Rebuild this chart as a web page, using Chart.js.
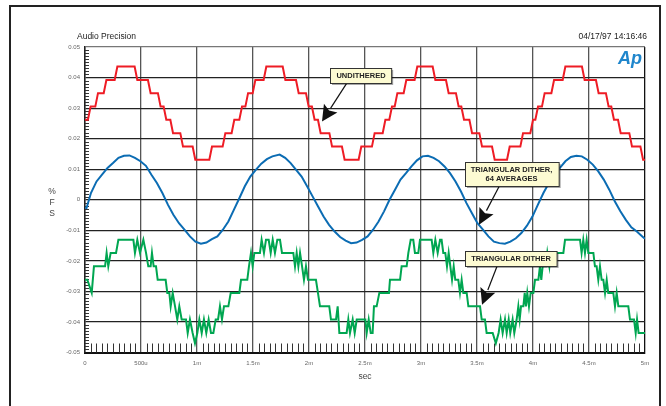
<!DOCTYPE html>
<html><head><meta charset="utf-8">
<script src="https://cdn.jsdelivr.net/npm/chart.js@4.4.1/dist/chart.umd.min.js"></script>
<style>html,body{margin:0;padding:0;background:#fff;}#wrap{width:666px;height:406px;position:relative;}</style>
</head><body><div id="wrap"><canvas id="c" width="666" height="406"></canvas></div>
<script>
// ---- tick labels ----
const xTickLabels = ['0','500u','1m','1.5m','2m','2.5m','3m','3.5m','4m','4.5m','5m'];
const yTickLabels = ['-0.05','-0.04','-0.03','-0.02','-0.01','0','0.01','0.02','0.03','0.04','0.05'];

// ---- UNDITHERED (red): time of each level change (ms) and level after it (%FS) ----
const redT = [0,0.038,0.104,0.179,0.277,0.455,0.574,0.663,0.714,0.774,0.863,0.973,1.122,1.241,1.321,1.390,1.444,1.509,1.607,1.777,1.896,1.985,2.038,2.092,2.194,2.306,2.455,2.574,2.670,2.729,2.777,2.857,2.955,3.116,3.235,3.324,3.372,3.444,3.533,3.646,3.780,3.899,3.988,4.033,4.092,4.176,4.277,4.449,4.574,4.663,4.711,4.771,4.872,4.971];
const redV = [0.0262,0.0305,0.0349,0.0392,0.0436,0.0392,0.0349,0.0305,0.0262,0.0218,0.0174,0.0131,0.0174,0.0218,0.0262,0.0305,0.0349,0.0392,0.0436,0.0392,0.0349,0.0305,0.0262,0.0218,0.0174,0.0131,0.0174,0.0218,0.0262,0.0305,0.0349,0.0392,0.0436,0.0392,0.0349,0.0305,0.0262,0.0218,0.0174,0.0131,0.0174,0.0218,0.0262,0.0305,0.0349,0.0392,0.0436,0.0392,0.0349,0.0305,0.0262,0.0218,0.0174,0.0131];

// ---- TRIANGULAR DITHER, 64 AVERAGES (blue) ----
const blueT = [0,0.014,0.053,0.103,0.152,0.201,0.250,0.299,0.348,0.397,0.446,0.495,0.544,0.593,0.642,0.691,0.740,0.789,0.839,0.888,0.937,0.986,1.035,1.084,1.133,1.182,1.231,1.280,1.329,1.378,1.427,1.476,1.525,1.574,1.624,1.673,1.738,1.787,1.836,1.885,1.934,1.983,2.032,2.081,2.130,2.179,2.229,2.278,2.327,2.376,2.425,2.474,2.523,2.572,2.621,2.670,2.719,2.768,2.817,2.866,2.915,2.964,3.013,3.062,3.112,3.161,3.210,3.259,3.308,3.357,3.406,3.455,3.504,3.553,3.602,3.651,3.700,3.749,3.798,3.847,3.896,3.946,3.995,4.044,4.093,4.142,4.191,4.240,4.289,4.338,4.387,4.436,4.485,4.534,4.583,4.632,4.681,4.730,4.780,4.829,4.878,4.927,4.976,5.0];
const blueV = [-0.0025,-0.0027,0.0022,0.0060,0.0082,0.0104,0.0120,0.0137,0.0144,0.0145,0.0137,0.0126,0.0111,0.0082,0.0055,0.0022,-0.0016,-0.0049,-0.0077,-0.0098,-0.0120,-0.0137,-0.0144,-0.0140,-0.0129,-0.0120,-0.0098,-0.0071,-0.0033,0.0005,0.0044,0.0076,0.0098,0.0118,0.0133,0.0142,0.0148,0.0137,0.0120,0.0098,0.0076,0.0044,0.0011,-0.0022,-0.0055,-0.0082,-0.0104,-0.0122,-0.0134,-0.0142,-0.0140,-0.0131,-0.0120,-0.0098,-0.0071,-0.0038,0.0000,0.0033,0.0066,0.0087,0.0109,0.0129,0.0142,0.0144,0.0137,0.0126,0.0109,0.0087,0.0060,0.0027,-0.0011,-0.0044,-0.0077,-0.0098,-0.0120,-0.0137,-0.0142,-0.0144,-0.0137,-0.0126,-0.0109,-0.0085,-0.0055,-0.0016,0.0022,0.0055,0.0082,0.0104,0.0126,0.0140,0.0144,0.0142,0.0131,0.0115,0.0093,0.0066,0.0033,-0.0005,-0.0038,-0.0066,-0.0090,-0.0104,-0.0120,-0.0128];

// ---- TRIANGULAR DITHER (green) ----
const greenT = [0,0.021,0.060,0.080,0.179,0.193,0.208,0.229,0.277,0.298,0.432,0.446,0.467,0.491,0.521,0.545,0.565,0.586,0.598,0.613,0.634,0.649,0.720,0.735,0.753,0.765,0.783,0.804,0.824,0.842,0.863,0.902,0.917,0.937,0.961,0.982,1.003,1.021,1.042,1.062,1.083,1.104,1.125,1.146,1.167,1.188,1.205,1.223,1.241,1.280,1.301,1.378,1.393,1.449,1.464,1.482,1.497,1.512,1.562,1.577,1.598,1.616,1.640,1.658,1.676,1.696,1.717,1.741,1.759,1.860,1.875,1.890,1.905,1.920,1.938,1.955,1.973,1.991,2.062,2.080,2.098,2.181,2.196,2.241,2.256,2.271,2.336,2.351,2.366,2.390,2.408,2.426,2.503,2.515,2.533,2.551,2.568,2.580,2.604,2.628,2.714,2.723,2.813,2.827,2.872,2.887,2.908,2.931,2.946,2.976,2.991,3.095,3.110,3.128,3.149,3.170,3.184,3.199,3.217,3.232,3.247,3.262,3.277,3.292,3.306,3.333,3.348,3.363,3.378,3.408,3.423,3.527,3.542,3.571,3.586,3.640,3.668,3.693,3.711,3.729,3.750,3.765,3.783,3.797,3.818,3.833,3.854,3.869,3.881,3.893,3.914,3.926,3.937,3.949,3.964,3.979,4.003,4.018,4.048,4.062,4.074,4.086,4.116,4.128,4.146,4.158,4.271,4.286,4.420,4.434,4.449,4.464,4.479,4.494,4.539,4.553,4.568,4.583,4.598,4.613,4.628,4.643,4.658,4.672,4.717,4.732,4.747,4.762,4.851,4.866,4.902,4.917,4.929,4.943,5.0];
const greenV = [-0.0262,-0.0262,-0.0305,-0.0218,-0.0218,-0.0174,-0.0218,-0.0174,-0.0174,-0.0131,-0.0131,-0.0174,-0.0131,-0.0174,-0.0131,-0.0174,-0.0218,-0.0218,-0.0174,-0.0218,-0.0218,-0.0262,-0.0262,-0.0305,-0.0305,-0.0349,-0.0305,-0.0349,-0.0392,-0.0349,-0.0392,-0.0392,-0.0436,-0.0392,-0.0436,-0.0470,-0.0436,-0.0392,-0.0436,-0.0392,-0.0436,-0.0392,-0.0436,-0.0436,-0.0392,-0.0392,-0.0349,-0.0392,-0.0349,-0.0349,-0.0305,-0.0305,-0.0262,-0.0262,-0.0218,-0.0174,-0.0218,-0.0174,-0.0174,-0.0131,-0.0174,-0.0131,-0.0131,-0.0174,-0.0131,-0.0174,-0.0131,-0.0131,-0.0174,-0.0174,-0.0218,-0.0174,-0.0218,-0.0174,-0.0218,-0.0262,-0.0218,-0.0262,-0.0262,-0.0305,-0.0349,-0.0349,-0.0392,-0.0392,-0.0349,-0.0436,-0.0436,-0.0392,-0.0436,-0.0392,-0.0436,-0.0392,-0.0392,-0.0436,-0.0392,-0.0436,-0.0436,-0.0349,-0.0349,-0.0305,-0.0305,-0.0262,-0.0262,-0.0218,-0.0218,-0.0174,-0.0131,-0.0131,-0.0174,-0.0174,-0.0131,-0.0131,-0.0174,-0.0131,-0.0174,-0.0131,-0.0131,-0.0174,-0.0174,-0.0218,-0.0174,-0.0218,-0.0262,-0.0218,-0.0262,-0.0262,-0.0305,-0.0262,-0.0305,-0.0305,-0.0349,-0.0349,-0.0392,-0.0392,-0.0436,-0.0436,-0.0470,-0.0436,-0.0392,-0.0436,-0.0392,-0.0436,-0.0392,-0.0436,-0.0392,-0.0436,-0.0392,-0.0349,-0.0392,-0.0349,-0.0349,-0.0305,-0.0349,-0.0305,-0.0349,-0.0305,-0.0305,-0.0262,-0.0262,-0.0218,-0.0262,-0.0218,-0.0218,-0.0174,-0.0218,-0.0174,-0.0174,-0.0131,-0.0131,-0.0174,-0.0131,-0.0174,-0.0131,-0.0174,-0.0174,-0.0218,-0.0218,-0.0262,-0.0218,-0.0262,-0.0262,-0.0305,-0.0262,-0.0305,-0.0305,-0.0349,-0.0305,-0.0349,-0.0349,-0.0392,-0.0392,-0.0436,-0.0392,-0.0436,-0.0436];

// ---- callouts: label lines, arrow tip (ms, %FS), box centre (ms, %FS) ----
const callouts = [
  {lines:['UNDITHERED'], tip:[2.116,0.0256], box:[2.464,0.0407]},
  {lines:['TRIANGULAR DITHER,','64 AVERAGES'], tip:[3.518,-0.0082], box:[3.808,0.0085]},
  {lines:['TRIANGULAR DITHER'], tip:[3.545,-0.0344], box:[3.804,-0.0193]}
];

// build datasets from the arrays
const redPts = [{x:redT[0], y:redV[0]}];
for (let i = 1; i < redT.length; i++) {
  redPts.push({x:redT[i]-0.012, y:redV[i-1]});
  redPts.push({x:redT[i]+0.012, y:redV[i]});
}
redPts.push({x:5, y:redV[redV.length-1]});
const bluePts = blueT.map((t,i)=>({x:t, y:blueV[i]}));
const greenPts = greenT.map((t,i)=>({x:t, y:greenV[i]}));

const FONT = "'Liberation Sans', Arial, Helvetica, sans-serif";

const deco = {
  id:'deco',
  beforeDraw(chart){
    const c = chart.ctx;
    c.save(); c.fillStyle='#fff'; c.fillRect(0,0,chart.width,chart.height); c.restore();
  },
  beforeDatasetsDraw(chart){
    const c = chart.ctx, xs = chart.scales.x, ys = chart.scales.y, a = chart.chartArea;
    c.save();
    c.strokeStyle = '#333'; c.lineWidth = 1;
    for (let k = 0; k <= 100; k++) {
      if (k % 10 === 0) continue;
      const px = Math.round(xs.getPixelForValue(k*0.05)) + 0.5;
      c.beginPath(); c.moveTo(px, a.bottom); c.lineTo(px, a.bottom - 9); c.stroke();
    }
    for (let k = 0; k <= 100; k++) {
      if (k % 10 === 0) continue;
      const py = Math.round(ys.getPixelForValue(-0.05 + k*0.001)) + 0.5;
      c.beginPath(); c.moveTo(a.left, py); c.lineTo(a.left + 4, py); c.stroke();
    }
    c.restore();
  },
  afterDraw(chart){
    const c = chart.ctx, xs = chart.scales.x, ys = chart.scales.y, a = chart.chartArea;
    c.save();
    c.strokeStyle = '#222'; c.lineWidth = 2;
    c.strokeRect(10, 6, 650, 420);
    c.fillStyle = '#222'; c.font = '8.5px ' + FONT; c.textBaseline = 'middle';
    c.textAlign = 'left'; c.fillText('Audio Precision', 77, 37);
    c.textAlign = 'right'; c.fillText('04/17/97 14:16:46', 647, 37);
    c.fillStyle = '#444'; c.font = '8.5px ' + FONT; c.textAlign = 'center';
    c.fillText('%', 52, 192); c.fillText('F', 52, 203); c.fillText('S', 52, 214);
    c.fillText('sec', (a.left + a.right)/2, 377);
    c.fillStyle = '#1f86cc'; c.font = 'italic bold 18px ' + FONT; c.textAlign = 'right'; c.textBaseline = 'alphabetic';
    c.fillText('Ap', a.right - 3, 64);
    callouts.forEach(co => {
      const tx = xs.getPixelForValue(co.tip[0]), ty = ys.getPixelForValue(co.tip[1]);
      const bx = xs.getPixelForValue(co.box[0]), by = ys.getPixelForValue(co.box[1]);
      c.font = 'bold 7.5px ' + FONT;
      const w = Math.max(...co.lines.map(l => c.measureText(l).width)) + 12;
      const h = co.lines.length * 9 + 6;
      const sx = bx - 14 + (co.lines.length>1 ? 2 : 0), sy = by + h/2;
      const ang = Math.atan2(ty - sy, tx - sx);
      const L = 16, W = 8;
      const hx = tx - L*Math.cos(ang), hy = ty - L*Math.sin(ang);
      c.strokeStyle = '#111'; c.lineWidth = 1.2;
      c.beginPath(); c.moveTo(sx, sy); c.lineTo(hx, hy); c.stroke();
      c.fillStyle = '#111';
      c.beginPath(); c.moveTo(tx, ty);
      c.lineTo(hx + W*Math.sin(ang), hy - W*Math.cos(ang));
      c.lineTo(hx + 3*Math.cos(ang), hy + 3*Math.sin(ang));
      c.lineTo(hx - W*Math.sin(ang), hy + W*Math.cos(ang));
      c.closePath(); c.fill();
      const x0 = Math.round(bx - w/2) + 0.5, y0 = Math.round(by - h/2) + 0.5;
      c.fillStyle = 'rgba(0,0,0,0.35)'; c.fillRect(x0 + 1.5, y0 + 1.5, w, h);
      c.fillStyle = '#fdfbd2'; c.fillRect(x0, y0, w, h);
      c.strokeStyle = '#333'; c.lineWidth = 1; c.strokeRect(x0, y0, w, h);
      c.fillStyle = '#222'; c.textAlign = 'center'; c.textBaseline = 'middle';
      co.lines.forEach((l, i) => c.fillText(l, bx, y0 + 3 + 4.5 + i*9));
    });
    c.restore();
  }
};

new Chart(document.getElementById('c'), {
  type:'line',
  data:{ datasets:[
    {label:'UNDITHERED', data:redPts, borderColor:'#ee1c25', borderWidth:2, pointRadius:0, tension:0, fill:false},
    {label:'TRIANGULAR DITHER, 64 AVERAGES', data:bluePts, borderColor:'#0b6cb3', borderWidth:2, pointRadius:0, tension:0, fill:false},
    {label:'TRIANGULAR DITHER', data:greenPts, borderColor:'#00a651', borderWidth:2, pointRadius:0, tension:0, fill:false}
  ]},
  options:{
    responsive:false, animation:false, devicePixelRatio:1,
    layout:{padding:{left:0, top:47, right:21, bottom:0}},
    plugins:{legend:{display:false}, tooltip:{enabled:false}, title:{display:false}},
    scales:{
      x:{type:'linear', min:0, max:5,
        afterFit(s){ s.height = 53.5; },
        afterBuildTicks(s){ s.ticks = xTickLabels.map((_,i)=>({value:i*0.5})); },
        ticks:{ padding:7, maxRotation:0, autoSkip:false, color:'#666', font:{family:FONT, size:6},
          callback:(v,i)=>xTickLabels[i] },
        grid:{ drawTicks:false, lineWidth:1.3, color:(ctx)=> ctx.index===10 ? '#111' : '#555' },
        border:{ display:true, color:'#111', width:2 }
      },
      y:{type:'linear', min:-0.05, max:0.05,
        afterFit(s){ s.width = 85; },
        afterBuildTicks(s){ s.ticks = yTickLabels.map((_,i)=>({value:-0.05 + i*0.01})); },
        ticks:{ padding:5, autoSkip:false, color:'#666', font:{family:FONT, size:6},
          callback:(v,i)=>yTickLabels[i] },
        grid:{ drawTicks:false, lineWidth:1.2, color:(ctx)=> ctx.index===10 ? '#777' : '#222' },
        border:{ display:true, color:'#222', width:1.5 }
      }
    }
  },
  plugins:[deco]
});
</script>
</body></html>
